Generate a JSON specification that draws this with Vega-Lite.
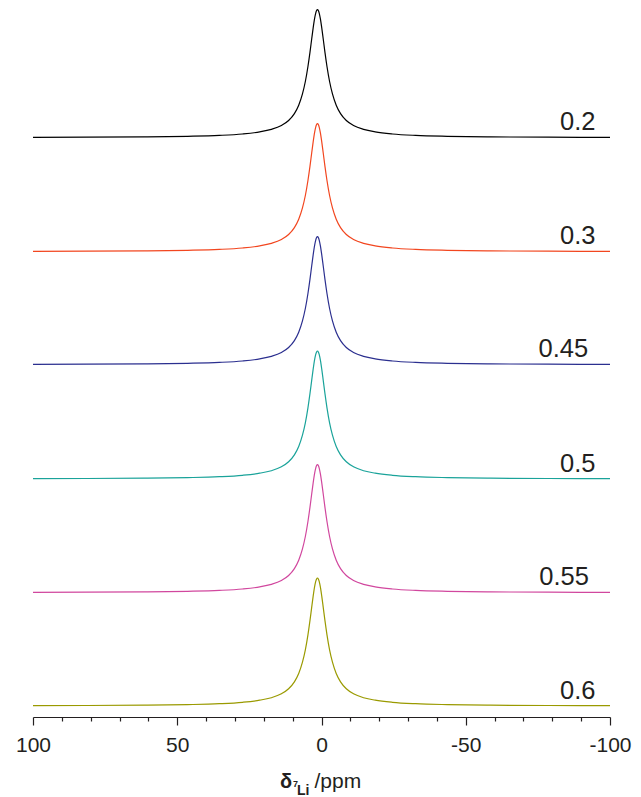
{
  "$schema": "https://vega.github.io/schema/vega-lite/v6.json",
  "width": 577,
  "height": 717,
  "autosize": {"type": "none"},
  "padding": {"left": 33, "top": 0, "right": 31, "bottom": 80},
  "config": {"view": {"stroke": null}, "font": "Liberation Sans"},
  "datasets": {
    "spec": [
      {"x": 100, "a02": 0.3, "a03": 0.3, "a045": 0.3, "a05": 0.3, "a055": 0.3, "a06": 0.3},
      {"x": 81.4, "a02": 0.5, "a03": 0.5, "a045": 0.5, "a05": 0.5, "a055": 0.5, "a06": 0.5},
      {"x": 61.4, "a02": 0.8, "a03": 0.8, "a045": 0.8, "a05": 0.8, "a055": 0.8, "a06": 0.8},
      {"x": 46.4, "a02": 1.4, "a03": 1.4, "a045": 1.4, "a05": 1.4, "a055": 1.4, "a06": 1.4},
      {"x": 35.4, "a02": 2.3, "a03": 2.3, "a045": 2.3, "a05": 2.3, "a055": 2.3, "a06": 2.3},
      {"x": 27.4, "a02": 3.7, "a03": 3.7, "a045": 3.7, "a05": 3.7, "a055": 3.7, "a06": 3.7},
      {"x": 21.4, "a02": 5.8, "a03": 5.8, "a045": 5.8, "a05": 5.8, "a055": 5.8, "a06": 5.8},
      {"x": 17.4, "a02": 8.3, "a03": 8.3, "a045": 8.3, "a05": 8.3, "a055": 8.3, "a06": 8.3},
      {"x": 13.9, "a02": 12.2, "a03": 12.2, "a045": 12.2, "a05": 12.2, "a055": 12.2, "a06": 12.2},
      {"x": 11.4, "a02": 17.2, "a03": 17.2, "a045": 17.2, "a05": 17.2, "a055": 17.2, "a06": 17.2},
      {"x": 9.4, "a02": 24.1, "a03": 24.1, "a045": 24.1, "a05": 24.1, "a055": 24.1, "a06": 24.1},
      {"x": 7.9, "a02": 32.5, "a03": 32.5, "a045": 32.5, "a05": 32.5, "a055": 32.5, "a06": 32.5},
      {"x": 6.6, "a02": 43.8, "a03": 43.8, "a045": 43.8, "a05": 43.8, "a055": 43.8, "a06": 43.8},
      {"x": 5.6, "a02": 56.2, "a03": 56.2, "a045": 56.2, "a05": 56.2, "a055": 56.2, "a06": 56.2},
      {"x": 4.7, "a02": 71.2, "a03": 71.2, "a045": 71.2, "a05": 71.2, "a055": 71.2, "a06": 71.2},
      {"x": 4.0, "a02": 85.3, "a03": 85.3, "a045": 85.3, "a05": 85.3, "a055": 85.3, "a06": 85.3},
      {"x": 3.4, "a02": 98.7, "a03": 98.7, "a045": 98.7, "a05": 98.7, "a055": 98.7, "a06": 98.7},
      {"x": 2.9, "a02": 109.6, "a03": 109.6, "a045": 109.6, "a05": 109.6, "a055": 109.6, "a06": 109.6},
      {"x": 2.4, "a02": 119.1, "a03": 119.1, "a045": 119.1, "a05": 119.1, "a055": 119.1, "a06": 119.1},
      {"x": 2.0, "a02": 124.6, "a03": 124.6, "a045": 124.6, "a05": 124.6, "a055": 124.6, "a06": 124.6},
      {"x": 1.7, "a02": 127.1, "a03": 127.1, "a045": 127.1, "a05": 127.1, "a055": 127.1, "a06": 127.1},
      {"x": 1.4, "a02": 128, "a03": 128, "a045": 128, "a05": 128, "a055": 128, "a06": 128},
      {"x": 1.1, "a02": 127.1, "a03": 127.1, "a045": 127.1, "a05": 127.1, "a055": 127.1, "a06": 127.1},
      {"x": 0.8, "a02": 124.6, "a03": 124.6, "a045": 124.6, "a05": 124.6, "a055": 124.6, "a06": 124.6},
      {"x": 0.4, "a02": 119.1, "a03": 119.1, "a045": 119.1, "a05": 119.1, "a055": 119.1, "a06": 119.1},
      {"x": -0.1, "a02": 109.6, "a03": 109.6, "a045": 109.6, "a05": 109.6, "a055": 109.6, "a06": 109.6},
      {"x": -0.6, "a02": 98.7, "a03": 98.7, "a045": 98.7, "a05": 98.7, "a055": 98.7, "a06": 98.7},
      {"x": -1.2, "a02": 85.3, "a03": 85.3, "a045": 85.3, "a05": 85.3, "a055": 85.3, "a06": 85.3},
      {"x": -1.9, "a02": 71.2, "a03": 71.2, "a045": 71.2, "a05": 71.2, "a055": 71.2, "a06": 71.2},
      {"x": -2.8, "a02": 56.2, "a03": 56.2, "a045": 56.2, "a05": 56.2, "a055": 56.2, "a06": 56.2},
      {"x": -3.8, "a02": 43.8, "a03": 43.8, "a045": 43.8, "a05": 43.8, "a055": 43.8, "a06": 43.8},
      {"x": -5.1, "a02": 32.5, "a03": 32.5, "a045": 32.5, "a05": 32.5, "a055": 32.5, "a06": 32.5},
      {"x": -6.6, "a02": 24.1, "a03": 24.1, "a045": 24.1, "a05": 24.1, "a055": 24.1, "a06": 24.1},
      {"x": -8.6, "a02": 17.2, "a03": 17.2, "a045": 17.2, "a05": 17.2, "a055": 17.2, "a06": 17.2},
      {"x": -11.1, "a02": 12.2, "a03": 12.2, "a045": 12.2, "a05": 12.2, "a055": 12.2, "a06": 12.2},
      {"x": -14.6, "a02": 8.3, "a03": 8.3, "a045": 8.3, "a05": 8.3, "a055": 8.3, "a06": 8.3},
      {"x": -18.6, "a02": 5.8, "a03": 5.8, "a045": 5.8, "a05": 5.8, "a055": 5.8, "a06": 5.8},
      {"x": -24.6, "a02": 3.7, "a03": 3.7, "a045": 3.7, "a05": 3.7, "a055": 3.7, "a06": 3.7},
      {"x": -32.6, "a02": 2.3, "a03": 2.3, "a045": 2.3, "a05": 2.3, "a055": 2.3, "a06": 2.3},
      {"x": -43.6, "a02": 1.4, "a03": 1.4, "a045": 1.4, "a05": 1.4, "a055": 1.4, "a06": 1.4},
      {"x": -58.6, "a02": 0.8, "a03": 0.8, "a045": 0.8, "a05": 0.8, "a055": 0.8, "a06": 0.8},
      {"x": -78.6, "a02": 0.5, "a03": 0.5, "a045": 0.5, "a05": 0.5, "a055": 0.5, "a06": 0.5},
      {"x": -100, "a02": 0.3, "a03": 0.3, "a045": 0.3, "a05": 0.3, "a055": 0.3, "a06": 0.3}
    ],
    "samples": [
      {"key": "a02", "label": "0.2", "o": 579.3, "lx": -82.7},
      {"key": "a03", "label": "0.3", "o": 465.3, "lx": -82.7},
      {"key": "a045", "label": "0.45", "o": 352.3, "lx": -75.2},
      {"key": "a05", "label": "0.5", "o": 238, "lx": -82.7},
      {"key": "a055", "label": "0.55", "o": 124.3, "lx": -75.5},
      {"key": "a06", "label": "0.6", "o": 11, "lx": -82.7}
    ]
  },
  "resolve": {"axis": {"x": "independent"}},
  "layer": [
    {
      "data": {"name": "spec"},
      "transform": [
        {"fold": ["a02", "a03", "a045", "a05", "a055", "a06"], "as": ["key", "i"]},
        {"lookup": "key", "from": {"data": {"name": "samples"}, "key": "key", "fields": ["label", "o"]}},
        {"calculate": "datum.i + datum.o", "as": "y"}
      ],
      "mark": {"type": "line", "strokeWidth": 1.2, "interpolate": "monotone"},
      "encoding": {
        "x": {
          "field": "x", "type": "quantitative",
          "scale": {"domain": [-100, 100], "reverse": true, "nice": false, "zero": false},
          "axis": {
            "orient": "bottom", "values": [100, 50, 0, -50, -100], "grid": false,
            "tickSize": 8, "tickWidth": 1.2, "tickColor": "#231f20",
            "domainColor": "#231f20", "domainWidth": 1.2,
            "labelFontSize": 21, "labelColor": "#231f20", "labelPadding": 9,
            "labelFlush": false, "labelOverlap": false, "labelExpr": "datum.value + ''",
            "title": "/ppm", "titleFontSize": 21, "titleFontWeight": "normal", "titleColor": "#231f20",
            "titleX": 281, "titleY": 70, "titleAlign": "left", "titleBaseline": "alphabetic"
          }
        },
        "y": {"field": "y", "type": "quantitative", "scale": {"domain": [0, 717], "nice": false, "zero": false}, "axis": null},
        "color": {
          "field": "label", "type": "nominal",
          "scale": {"domain": ["0.2", "0.3", "0.45", "0.5", "0.55", "0.6"], "range": ["#000000", "#f2461f", "#2b2f8f", "#1aa39a", "#d1479e", "#9a9a00"]},
          "legend": null
        }
      }
    },
    {
      "data": {"name": "samples"},
      "mark": {"type": "text", "align": "left", "baseline": "alphabetic", "dy": -7.5, "fontSize": 25.5, "color": "#231f20"},
      "encoding": {
        "x": {
          "field": "lx", "type": "quantitative",
          "scale": {"domain": [-100, 100], "reverse": true, "nice": false, "zero": false},
          "axis": {
            "orient": "bottom", "values": [90, 80, 70, 60, 40, 30, 20, 10, -10, -20, -30, -40, -60, -70, -80, -90],
            "grid": false, "domain": false, "labels": false,
            "tickSize": 4, "tickWidth": 1.2, "tickColor": "#231f20",
            "title": "δ", "titleFontSize": 20, "titleFontWeight": "bold", "titleColor": "#231f20",
            "titleX": 246.5, "titleY": 70, "titleAlign": "left", "titleBaseline": "alphabetic"
          }
        },
        "y": {"field": "o", "type": "quantitative", "scale": {"domain": [0, 717], "nice": false, "zero": false}, "axis": null},
        "text": {"field": "label", "type": "nominal"}
      }
    },
    {
      "data": {"values": []},
      "mark": {"type": "text"},
      "encoding": {
        "x": {
          "field": "x", "type": "quantitative",
          "scale": {"domain": [-100, 100], "reverse": true, "nice": false, "zero": false},
          "axis": {
            "orient": "bottom", "grid": false, "domain": false, "labels": false, "ticks": false,
            "title": "7", "titleFontSize": 9, "titleFontWeight": "bold", "titleColor": "#231f20",
            "titleX": 259.5, "titleY": 69, "titleAlign": "left", "titleBaseline": "alphabetic"
          }
        }
      }
    },
    {
      "data": {"values": []},
      "mark": {"type": "text"},
      "encoding": {
        "x": {
          "field": "x", "type": "quantitative",
          "scale": {"domain": [-100, 100], "reverse": true, "nice": false, "zero": false},
          "axis": {
            "orient": "bottom", "grid": false, "domain": false, "labels": false, "ticks": false,
            "title": "Li", "titleFontSize": 14, "titleFontWeight": "bold", "titleColor": "#231f20",
            "titleX": 263.5, "titleY": 77.5, "titleAlign": "left", "titleBaseline": "alphabetic"
          }
        }
      }
    }
  ]
}
